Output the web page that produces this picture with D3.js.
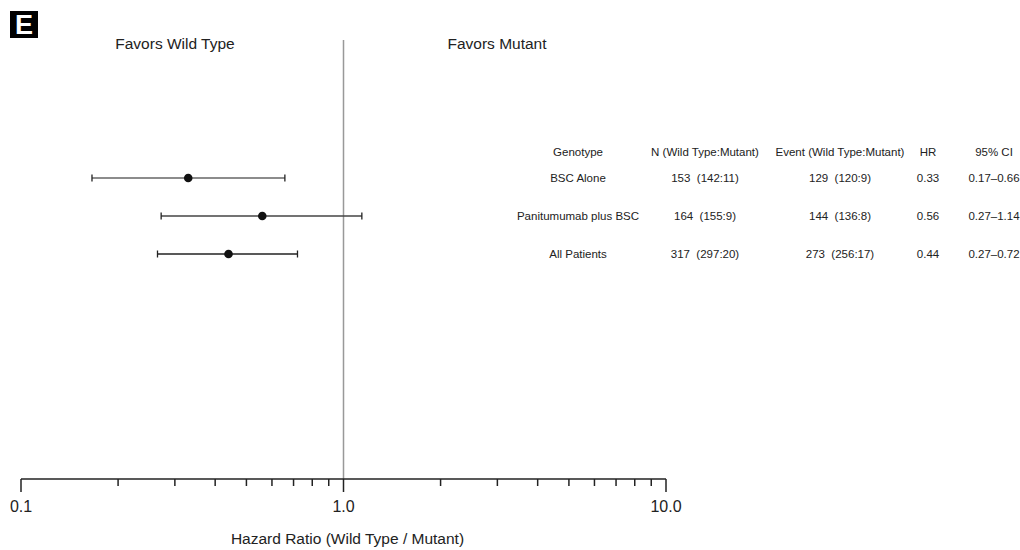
<!DOCTYPE html>
<html><head><meta charset="utf-8">
<script src="https://cdn.jsdelivr.net/npm/d3@7"></script>
<style>body{margin:0;background:#fff;font-family:"Liberation Sans",Arial,sans-serif;}</style>
</head><body>
<svg id="chart" width="1020" height="550"></svg>
<script>
const genotypes = ["BSC Alone", "Panitumumab plus BSC", "All Patients"];
const nCounts = ["153  (142:11)", "164  (155:9)", "317  (297:20)"];
const eventCounts = ["129  (120:9)", "144  (136:8)", "273  (256:17)"];
const hr = [0.33, 0.56, 0.44];
const ciLow = [0.166, 0.272, 0.265];
const ciHigh = [0.658, 1.14, 0.72];
const ciText = ["0.17\u20130.66", "0.27\u20131.14", "0.27\u20130.72"];
const majorTicks = [0.1, 1, 10];
const majorLabels = ["0.1", "1.0", "10.0"];
const headers = ["Genotype", "N (Wild Type:Mutant)", "Event (Wild Type:Mutant)", "HR", "95% CI"];

const svg = d3.select("#chart");
const font = "'Liberation Sans', Arial, sans-serif";
const x = d3.scaleLog().domain([0.1, 10]).range([21, 666]);
const y = d3.scalePoint().domain(d3.range(genotypes.length)).range([178, 254]);
const axisY = 479;

// panel label
svg.append("rect").attr("x", 10).attr("y", 11).attr("width", 28).attr("height", 27).attr("fill", "#000");
svg.append("text").attr("x", 24).attr("y", 34).attr("text-anchor", "middle")
  .attr("font-family", font).attr("font-weight", "bold").attr("font-size", 27).attr("fill", "#fff").text("E");

// favors labels
svg.append("text").attr("x", 175).attr("y", 49).attr("text-anchor", "middle").attr("font-family", font)
  .attr("font-size", 15.5).attr("fill", "#222").text("Favors Wild Type");
svg.append("text").attr("x", 497).attr("y", 49).attr("text-anchor", "middle").attr("font-family", font)
  .attr("font-size", 15.5).attr("fill", "#222").text("Favors Mutant");

// reference line
svg.append("line").attr("x1", x(1)).attr("x2", x(1)).attr("y1", 40).attr("y2", axisY)
  .attr("stroke", "#999").attr("stroke-width", 1.5);

// axis
const minor = [];
[0.1, 1].forEach(b => { for (let k = 2; k <= 9; k++) minor.push(b * k); });
const ax = svg.append("g").attr("transform", `translate(0,${axisY})`);
ax.append("line").attr("x1", x(0.1)).attr("x2", x(10)).attr("stroke", "#222").attr("stroke-width", 1.5);
ax.selectAll("line.minor").data(minor).enter().append("line").attr("class", "minor")
  .attr("x1", d => x(d)).attr("x2", d => x(d)).attr("y1", 0).attr("y2", 7).attr("stroke", "#222").attr("stroke-width", 1.5);
ax.selectAll("line.major").data(majorTicks).enter().append("line").attr("class", "major")
  .attr("x1", d => x(d)).attr("x2", d => x(d)).attr("y1", 0).attr("y2", 13).attr("stroke", "#222").attr("stroke-width", 1.5);
ax.selectAll("text").data(majorTicks).enter().append("text")
  .attr("x", d => x(d)).attr("y", 33).attr("text-anchor", "middle").attr("font-family", font)
  .attr("font-size", 16).attr("fill", "#222").text((d, i) => majorLabels[i]);
svg.append("text").attr("x", x(1) + 4).attr("y", 544).attr("text-anchor", "middle").attr("font-family", font)
  .attr("font-size", 15.5).attr("fill", "#222").text("Hazard Ratio (Wild Type / Mutant)");

// error bars
const rows = svg.append("g");
const lineColors = ["#666", "#444", "#222"];
genotypes.forEach((g, i) => {
  const yy = y(i);
  rows.append("line").attr("x1", x(ciLow[i])).attr("x2", x(ciHigh[i])).attr("y1", yy).attr("y2", yy)
    .attr("stroke", lineColors[i]).attr("stroke-width", 1.3);
  [ciLow[i], ciHigh[i]].forEach(v => {
    rows.append("line").attr("x1", x(v)).attr("x2", x(v)).attr("y1", yy - 3.5).attr("y2", yy + 3.5)
      .attr("stroke", "#222").attr("stroke-width", 1.3);
  });
  rows.append("circle").attr("cx", x(hr[i])).attr("cy", yy).attr("r", 4.3).attr("fill", "#111");
});

// table
const colX = [578, 705, 840, 928, 994];
const tbl = svg.append("g").attr("font-family", font).attr("font-size", 11.5).attr("fill", "#222").attr("text-anchor", "middle");
headers.forEach((h, j) => tbl.append("text").attr("x", colX[j]).attr("y", 156).text(h));
genotypes.forEach((g, i) => {
  const yy = y(i) + 4;
  const vals = [g, nCounts[i], eventCounts[i], hr[i].toFixed(2), ciText[i]];
  vals.forEach((v, j) => tbl.append("text").attr("x", colX[j]).attr("y", yy).attr("xml:space", "preserve").style("white-space", "pre").text(v));
});
</script>
</body></html>
